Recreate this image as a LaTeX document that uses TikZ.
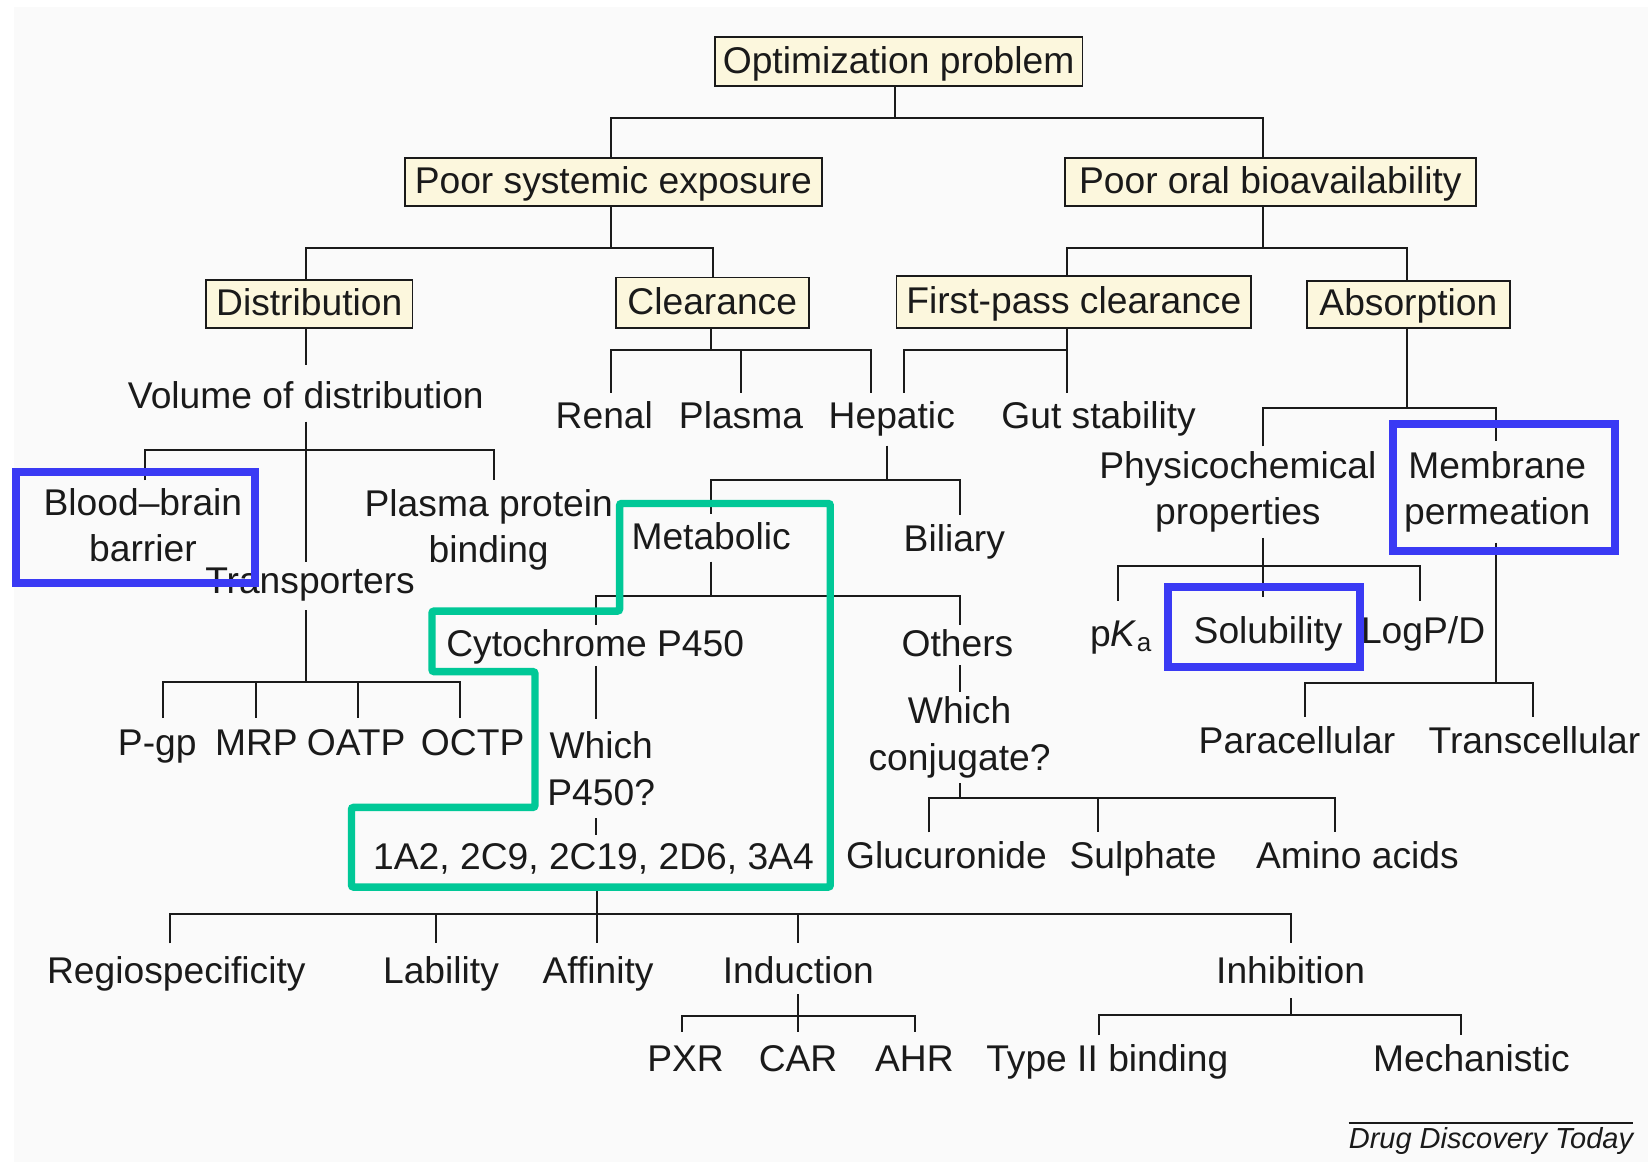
\documentclass[tikz,border=0pt]{standalone}
\usepackage{fontspec}
\setmainfont{Liberation Sans}
\definecolor{bgc}{HTML}{FAFAFA}
\definecolor{cream}{HTML}{FCF7DD}
\definecolor{hlblue}{HTML}{3A3AF4}
\definecolor{hlgreen}{HTML}{00C897}
\definecolor{ink}{HTML}{1A1A1A}
\newcommand\dfont{\fontsize{35.4}{44}\selectfont}
\newcommand\srcfont{\fontsize{27.6}{30}\selectfont\itshape}
\tikzset{
  conn/.style={draw=ink, line width=1.9pt, line join=miter},
  box/.style={draw=ink, fill=cream, line width=1.7pt, inner sep=0pt,
    text height=25.3pt, text depth=3pt, font=\dfont, text=ink},
  lbl/.style={font=\dfont, text=ink, inner sep=0pt, outer sep=0pt,
    anchor=base, yshift=-12.65pt, text height=31.3pt, text depth=13.4pt},
  mlbl/.style={font=\dfont, text=ink, inner sep=0pt, align=center, anchor=north},
  hlb/.style={draw=hlblue, line width=7.5pt},
  hlg/.style={draw=hlgreen, line width=7pt, rounded corners=2pt},
}
\begin{document}
\begin{tikzpicture}[x=1pt,y=-1pt]
\useasboundingbox (0,0) rectangle (1568,1105.6);
\fill[white] (0,0) rectangle (1568,1105.6);
\fill[bgc] (13.3,6.7) rectangle (1568,1105.6);

% boxes
\node[box, minimum width=350pt, minimum height=47pt] (opt) at (855,58.5) {Optimization problem};
\node[box, minimum width=397pt, minimum height=46pt] (pse) at (583.5,173) {Poor systemic exposure};
\node[box, minimum width=391pt, minimum height=46pt] (pob) at (1208.7,173) {Poor oral bioavailability};
\node[box, minimum width=196.5pt, minimum height=46pt] (dist) at (294.2,289.3) {Distribution};
\node[box, minimum width=183.5pt, minimum height=48pt] (clr) at (677.7,288) {Clearance};
\node[box, minimum width=337.5pt, minimum height=50pt] (fpc) at (1021.7,287.4) {First-pass clearance};
\node[box, minimum width=193pt, minimum height=45pt] (abs) at (1340,289.5) {Absorption};

% single-line labels
\node[lbl, text height=41.5pt, text depth=12.5pt] (vod) at (291,375.9) {Volume of distribution};
\node[lbl, text height=30.2pt, text depth=15.9pt] (trans) at (295,552) {Transporters};
\node[lbl, text height=35pt] (pgp) at (149.6,705.7) {P-gp};
\node[lbl, text height=35pt] (mrp) at (244,705.7) {MRP};
\node[lbl, text height=35pt] (oatp) at (338.8,705.7) {OATP};
\node[lbl, text height=35pt] (octp) at (449.7,705.7) {OCTP};
\node[lbl, text height=34pt] (renal) at (575,395) {Renal};
\node[lbl, text height=34pt] (plasma) at (705,395) {Plasma};
\node[lbl, text height=34pt, text depth=16.4pt] (hep) at (848.5,395) {Hepatic};
\node[lbl, text height=34pt] (gut) at (1045.3,395) {Gut stability};
\node[lbl, text height=34.3pt, text depth=11.2pt] (met) at (676.6,510.6) {Metabolic};
\node[lbl, text height=34.7pt] (bil) at (908,512) {Biliary};
\node[lbl, text height=30pt, text depth=9pt] (cyto) at (566.3,612) {Cytochrome P450};
\node[lbl, text height=30pt, text depth=8.4pt] (oth) at (911,612) {Others};
\node[lbl, text height=33.2pt, text depth=20.4pt] (a1) at (564.7,815) {1A2, 2C9, 2C19, 2D6, 3A4};
\node[lbl, text height=34.3pt] (glu) at (900.5,813.6) {Glucuronide};
\node[lbl, text height=34.3pt] (sul) at (1087.6,813.6) {Sulphate};
\node[lbl, text height=34.3pt] (ami) at (1291.5,813.6) {Amino acids};
\node[lbl, text height=43.5pt] (pka) at (1066.6,602.6) {p\textit{K}\textsubscript{a}};
\node[lbl, text height=44.5pt] (sol) at (1206.6,599.5) {Solubility};
\node[lbl, text height=40.4pt] (logp) at (1354,599.5) {LogP/D};
\node[lbl, text height=34.7pt] (para) at (1234,704) {Paracellular};
\node[lbl, text height=34.7pt] (transc) at (1460,704) {Transcellular};
\node[lbl, text height=38.55pt] (regio) at (167.8,923.5) {Regiospecificity};
\node[lbl, text height=38.55pt] (lab) at (419.6,923.5) {Lability};
\node[lbl, text height=38.55pt] (aff) at (569,923.5) {Affinity};
\node[lbl, text height=38.55pt, text depth=9.65pt] (ind) at (759.5,923.5) {Induction};
\node[lbl, text height=38.55pt, text depth=13.45pt] (inh) at (1228,923.5) {Inhibition};
\node[lbl, text height=38pt] (pxr) at (652.3,1007) {PXR};
\node[lbl, text height=38pt] (car) at (759.3,1007) {CAR};
\node[lbl, text height=38pt] (ahr) at (870,1007) {AHR};
\node[lbl, text height=34.7pt] (t2) at (1053.5,1007) {Type II binding};
\node[lbl, text height=34.7pt] (mech) at (1400,1007) {Mechanistic};

% multi-line labels
\node[mlbl, outer ysep=8pt] (bbb) at (136,456.75) {Blood–brain\\barrier};
\node[mlbl, outer ysep=9.25pt] (ppb) at (465,456.7) {Plasma protein\\binding};
\node[mlbl, outer ysep=5pt] (phys) at (1177.8,424.75) {Physicochemical\\properties};
\node[mlbl, outer ysep=9.85pt] (memb) at (1424.5,419.5) {Membrane\\permeation};
\node[mlbl, outer ysep=12pt] (whichp) at (572,684.35) {Which\\P450?};
\node[mlbl, outer ysep=5pt] (whichc) at (913,658) {Which\\conjugate?};

% source
\node[font=\srcfont, text=ink, inner sep=0pt, anchor=base, text height=24.8pt, text depth=6pt] (ddt) at (1418.6,1093) {Drug Discovery Today};
\draw[draw=ink, line width=1.9pt] (ddt.north west) -- (ddt.north east);

% junction coordinates
\coordinate (c1) at (851.6,112); \coordinate (c1l) at (581,112); \coordinate (c1r) at (1202,112);
\coordinate (c2) at (581,235.5); \coordinate (c2l) at (291,235.5); \coordinate (c2r) at (678,235.5);
\coordinate (c3) at (1202,235.5); \coordinate (c3l) at (1015,235.5); \coordinate (c3r) at (1338.6,235.5);
\coordinate (c5l) at (138,428.2); \coordinate (c5r) at (470.3,428.2);
\coordinate (c6) at (291,649.3); \coordinate (c6a) at (154.7,649.3); \coordinate (c6b) at (243.4,649.3);
\coordinate (c6c) at (340.9,649.3); \coordinate (c6d) at (437.3,649.3);
\coordinate (c7) at (676.5,333); \coordinate (c7a) at (581,333); \coordinate (c7b) at (705,333); \coordinate (c7c) at (829,333);
\coordinate (c8) at (1015,333); \coordinate (c8a) at (860.5,333);
\coordinate (c9) at (844,457); \coordinate (c9a) at (676.6,457); \coordinate (c9b) at (913,457);
\coordinate (c10) at (676.6,567); \coordinate (c10a) at (567.3,567); \coordinate (c10b) at (913,567);
\coordinate (c13) at (568,869.7); \coordinate (c13a) at (161.4,869.7); \coordinate (c13b) at (415,869.7);
\coordinate (c13c) at (759.7,869.7); \coordinate (c13d) at (1228.7,869.7);
\coordinate (c14) at (759.5,966.7); \coordinate (c14a) at (649.3,966.7); \coordinate (c14b) at (870.8,966.7);
\coordinate (c15) at (1228.7,966); \coordinate (c15a) at (1046,966); \coordinate (c15b) at (1390.5,966);
\coordinate (c17) at (913,759.7); \coordinate (c17a) at (884,759.7); \coordinate (c17b) at (1045,759.7); \coordinate (c17c) at (1270.5,759.7);
\coordinate (c18) at (1338.6,387.8); \coordinate (c18a) at (1202,387.8); \coordinate (c18b) at (1423,387.8);
\coordinate (c19) at (1202,538.6); \coordinate (c19a) at (1064,538.6); \coordinate (c19b) at (1350.6,538.6);
\coordinate (c20) at (1423,649.5); \coordinate (c20a) at (1241.5,649.5); \coordinate (c20b) at (1459,649.5);

% connectors
\draw[conn] (opt.south -| c1) -- (c1);
\draw[conn] (c1l |- pse.north) -- (c1l) -- (c1r) -- (c1r |- pob.north);
\draw[conn] (pse.south -| c2) -- (c2);
\draw[conn] (c2l |- dist.north) -- (c2l) -- (c2r) -- (c2r |- clr.north);
\draw[conn] (pob.south -| c3) -- (c3);
\draw[conn] (c3l |- fpc.north) -- (c3l) -- (c3r) -- (c3r |- abs.north);
\draw[conn] (vod.north) -- (vod.north |- dist.south);
\draw[conn] (vod.south) -- (vod.south |- trans.north);
\draw[conn] (c5l |- bbb.north) -- (c5l) -- (c5r) -- (c5r |- ppb.north);
\draw[conn] (trans.south -| c6) -- (c6);
\draw[conn] (c6a |- pgp.north) -- (c6a) -- (c6d) -- (c6d |- octp.north);
\draw[conn] (c6b) -- (c6b |- mrp.north);
\draw[conn] (c6c) -- (c6c |- oatp.north);
\draw[conn] (clr.south -| c7) -- (c7);
\draw[conn] (c7a |- renal.north) -- (c7a) -- (c7c) -- (c7c |- hep.north);
\draw[conn] (c7b) -- (c7b |- plasma.north);
\draw[conn] (fpc.south -| c8) -- (c8 |- gut.north);
\draw[conn] (c8a |- hep.north) -- (c8a) -- (c8);
\draw[conn] (hep.south -| c9) -- (c9);
\draw[conn] (c9a |- met.north) -- (c9a) -- (c9b) -- (c9b |- bil.north);
\draw[conn] (met.south -| c10) -- (c10);
\draw[conn] (c10a |- cyto.north) -- (c10a) -- (c10b) -- (c10b |- oth.north);
\draw[conn] (cyto.south -| c10a) -- (c10a |- whichp.north);
\draw[conn] (whichp.south -| c10a) -- (c10a |- a1.north);
\draw[conn] (a1.south -| c13) -- (c13 |- aff.north);
\draw[conn] (c13a |- regio.north) -- (c13a) -- (c13d) -- (c13d |- inh.north);
\draw[conn] (c13b) -- (c13b |- lab.north);
\draw[conn] (c13c) -- (c13c |- ind.north);
\draw[conn] (ind.south -| c14) -- (c14 |- car.north);
\draw[conn] (c14a |- pxr.north) -- (c14a) -- (c14b) -- (c14b |- ahr.north);
\draw[conn] (inh.south -| c15) -- (c15);
\draw[conn] (c15a |- t2.north) -- (c15a) -- (c15b) -- (c15b |- mech.north);
\draw[conn] (oth.south -| c9b) -- (c9b |- whichc.north);
\draw[conn] (whichc.south -| c17) -- (c17);
\draw[conn] (c17a |- glu.north) -- (c17a) -- (c17c) -- (c17c |- ami.north);
\draw[conn] (c17b) -- (c17b |- sul.north);
\draw[conn] (abs.south -| c18) -- (c18);
\draw[conn] (c18a |- phys.north) -- (c18a) -- (c18b) -- (c18b |- memb.north);
\draw[conn] (phys.south -| c19) -- (c19 |- sol.north);
\draw[conn] (c19a |- pka.north) -- (c19a) -- (c19b) -- (c19b |- logp.north);
\draw[conn] (memb.south -| c20) -- (c20);
\draw[conn] (c20a |- para.north) -- (c20a) -- (c20b) -- (c20b |- transc.north);

% highlights
\draw[hlb] (15,448.7) rectangle (242.3,554.5);
\draw[hlb] (1325,403.2) rectangle (1536.7,524);
\draw[hlb] (1111.5,558.5) rectangle (1294,634.5);
\draw[hlg] (589.5,479) -- (790,479) -- (790,844) -- (334.4,844) -- (334.4,768.2)
  -- (509,768.2) -- (509,639) -- (411,639) -- (411,581.4) -- (589.5,581.4) -- cycle;
\end{tikzpicture}
\end{document}
